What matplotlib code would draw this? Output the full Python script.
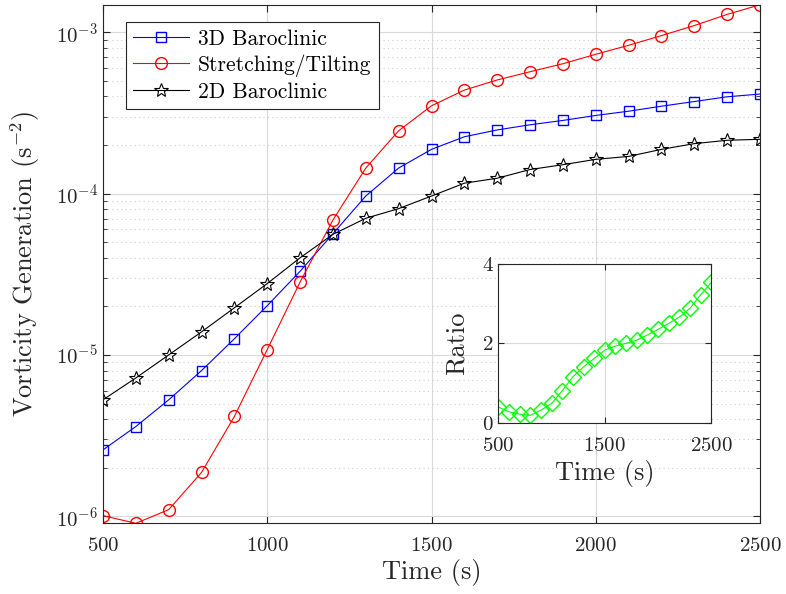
import numpy as np
import matplotlib
matplotlib.use("Agg")
import matplotlib.pyplot as plt
from matplotlib.ticker import LogLocator, NullFormatter

plt.rcParams['font.family'] = 'serif'
plt.rcParams['font.serif'] = ['cmr10']
plt.rcParams['mathtext.fontset'] = 'cm'
plt.rcParams['axes.formatter.use_mathtext'] = True
plt.rcParams['font.size'] = 15

# Data
time = np.arange(500, 2501, 100)
baro_3d = [2.58e-6, 3.6e-6, 5.27e-6, 8.0e-6, 1.26e-5, 2.02e-5, 3.3e-5, 5.64e-5, 9.66e-5, 1.44e-4,
           1.88e-4, 2.25e-4, 2.48e-4, 2.67e-4, 2.84e-4, 3.05e-4, 3.24e-4, 3.48e-4, 3.72e-4, 3.98e-4, 4.14e-4]
stretch = [1.01e-6, 9.05e-7, 1.10e-6, 1.87e-6, 4.16e-6, 1.08e-5, 2.83e-5, 6.86e-5, 1.44e-4, 2.45e-4,
           3.50e-4, 4.38e-4, 5.06e-4, 5.69e-4, 6.38e-4, 7.3e-4, 8.3e-4, 9.53e-4, 1.10e-3, 1.29e-3, 1.48e-3]
baro_2d = [5.27e-6, 7.2e-6, 1.0e-5, 1.39e-5, 1.96e-5, 2.77e-5, 4.0e-5, 5.59e-5, 7.03e-5, 8.07e-5,
           9.66e-5, 1.16e-4, 1.245e-4, 1.41e-4, 1.51e-4, 1.63e-4, 1.70e-4, 1.88e-4, 2.04e-4, 2.14e-4, 2.17e-4]
ratio = [0.40, 0.28, 0.22, 0.19, 0.32, 0.49, 0.81, 1.16, 1.41, 1.62,
         1.83, 1.93, 2.0, 2.08, 2.21, 2.35, 2.5, 2.66, 2.88, 3.22, 3.53]

axcol = (0.15, 0.15, 0.15)
lab_size = 19

fig = plt.figure(figsize=(7.86, 5.94), dpi=100)
ax = fig.add_axes([0.131, 0.119, 0.836, 0.873])

ax.plot(time, baro_3d, '-s', color='b', lw=0.8, ms=6.5, mfc='none', label='3D Baroclinic')
ax.plot(time, stretch, '-o', color='r', lw=0.8, ms=8.5, mfc='none', label='Stretching/Tilting')
ax.plot(time, baro_2d, '-*', color='k', lw=0.8, ms=10, mfc='none', mew=0.8, label='2D Baroclinic')

ax.set_yscale('log')
ax.set_xlim(500, 2500)
ax.set_ylim(min(stretch), max(stretch))
ax.set_xticks([500, 1000, 1500, 2000, 2500])
ax.yaxis.set_minor_locator(LogLocator(base=10, subs=np.arange(2, 10)))
ax.yaxis.set_minor_formatter(NullFormatter())
ax.grid(True, which='major', color='0.85', lw=0.8)
ax.grid(True, which='minor', axis='y', color='0.8', lw=0.8, ls=(0, (1, 3)))
ax.tick_params(which='both', direction='in', top=True, right=True, colors=axcol, labelcolor=axcol)
ax.tick_params(which='major', length=5, labelsize=15)
ax.tick_params(which='minor', length=3)
ax.tick_params(axis='x', pad=10)
for s in ax.spines.values():
    s.set_color(axcol)
ax.set_xlabel('Time (s)', color=axcol, fontsize=lab_size, labelpad=3)
ax.set_ylabel(r'Vorticity Generation (s$^{-2}$)', color=axcol, fontsize=lab_size, labelpad=10)

leg = ax.legend(loc='upper left', bbox_to_anchor=(0.0345, 0.967), borderaxespad=0,
                fancybox=False, edgecolor=axcol, framealpha=1, handlelength=2.6,
                labelspacing=0.25, borderpad=0.35, handletextpad=0.4, fontsize=15.5)
leg.get_frame().set_linewidth(0.8)

# inset with the ratio
ins = fig.add_axes([0.634, 0.288, 0.271, 0.268])
ins.plot(time, ratio, '-D', color=(0, 1, 0), lw=0.8, ms=8, mfc='none')
ins.set_xlim(500, 2500)
ins.set_ylim(0, 4)
ins.set_xticks([500, 1500, 2500])
ins.set_yticks([0, 2, 4])
ins.grid(True, color='0.85', lw=0.8)
ins.tick_params(direction='in', top=True, right=True, length=4, colors=axcol, labelcolor=axcol,
                labelsize=15)
ins.tick_params(axis='x', pad=10)
for s in ins.spines.values():
    s.set_color(axcol)
ins.set_xlabel('Time (s)', color=axcol, fontsize=lab_size, labelpad=4)
ins.set_ylabel('Ratio', color=axcol, fontsize=lab_size, labelpad=9)

fig.savefig('out.png', dpi=100)
